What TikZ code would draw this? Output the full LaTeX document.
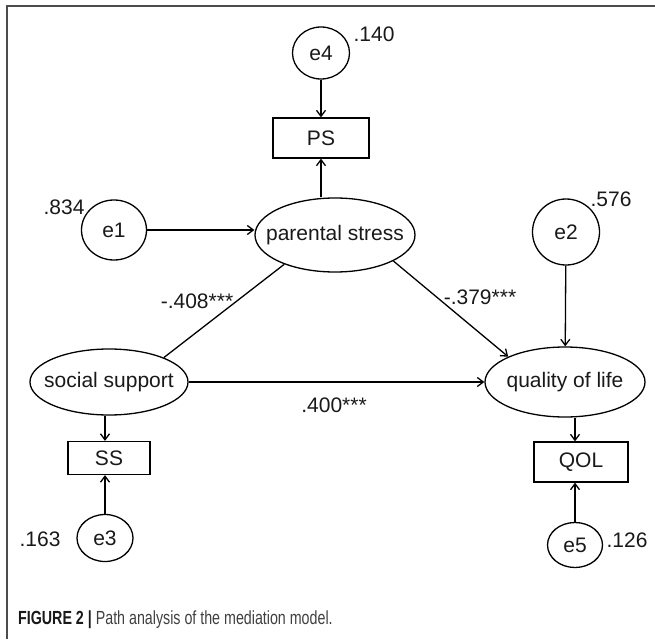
\documentclass[tikz,border=0pt]{standalone}
\usepackage{fontspec}
\setmainfont{Liberation Sans}
\usetikzlibrary{shapes.geometric,arrows.meta}

\begin{document}
\begin{tikzpicture}[x=1pt,y=-1pt,
	every node/.style={font=\fontsize{21}{24}\selectfont,text=black!90},
	err/.style={ellipse,draw,line width=1.3pt,inner sep=0pt},
	latent/.style={ellipse,draw,line width=1.3pt,inner ysep=0pt,inner xsep=-25pt,minimum width=160pt,minimum height=70pt},
	obs/.style={rectangle,draw,line width=1.3pt,inner sep=0pt},
	arr/.style={-{Straight Barb[length=6pt,width=9pt]},line width=1.3pt},
	coef/.style={inner sep=0pt}]
				\useasboundingbox (0,0) rectangle (655,639);
				\draw [black!70,line width=1.3pt](7,639)--(7,6)--(655,6);
				
				\node [err,minimum width=57pt,minimum height=52pt](e4) at (321,53){e4};
				\node [obs,minimum width=96pt,minimum height=40pt](psbox) at (321,138){PS};
				\node [latent,minimum height=74pt](ps) at (335,235){parental stress};
				\node [err,minimum width=65pt,minimum height=60pt](e1) at (114,230){e1};
				\node [err,minimum width=67pt,minimum height=66pt](e2) at (566,232){e2};
				\node [latent,minimum width=158pt,minimum height=66pt](ss) at (109,382){social support};
				\node [latent](qol) at (565,382){quality of life};
				\node [obs,minimum width=82pt,minimum height=33pt](ssbox) at (109,458){SS};
				\node [obs,minimum width=94pt,minimum height=40pt](qolbox) at (581,462){QOL};
				\node [err,minimum width=56pt,minimum height=47pt](e3) at (105,538){e3};
				\node [err,minimum width=55pt,minimum height=45pt](e5) at (575,545){e5};
				
				\node [coef](v4) at (374,34){.140};
				\node [coef](v1) at (64,207){.834};
				\node [coef](v2) at (611,199){.576};
				\node [coef](v3) at (40,539){.163};
				\node [coef](v5) at (627,540){.126};
				\node [coef](b1) at (197,301){-.408***};
				\node [coef](b2) at (480,297){-.379***};
				\node [coef](b3) at (334,405){.400***};
				
				\draw [arr](e4)--(psbox);
				\draw [arr](ps.north -| psbox)--(psbox);
				\draw [arr](e1)--(ps.west |- e1);
				\draw [arr](e2)--(qol);
				\draw [arr](ps.336)--(qol.156);
				\draw [line width=1.3pt](ss.24)--(ps.210);
				\draw [arr](ss)--(qol);
				\draw [arr](ss.south -| e3)--(ssbox.north -| e3);
				\draw [arr](e3)--(ssbox.south -| e3);
				\draw [arr](qol.south -| e5)--(qolbox.north -| e5);
				\draw [arr](e5)--(qolbox.south -| e5);
				
				\node [anchor=base west,inner sep=0pt,font=\fontsize{19}{22}\selectfont](cap) at (18,624){\scalebox{0.75}[1]{\textbf{FIGURE 2 |} \textcolor{black!75}{Path analysis of the mediation model.}}};
			\end{tikzpicture}
\end{document}
